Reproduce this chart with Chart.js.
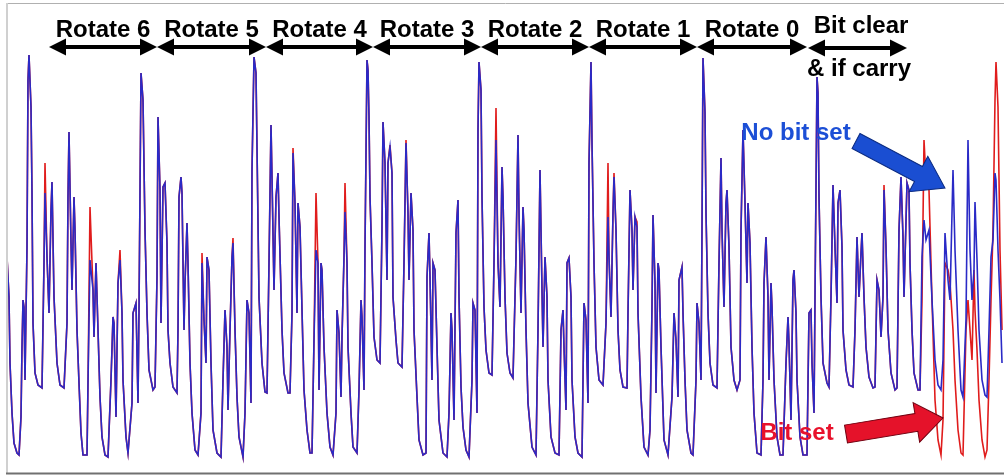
<!DOCTYPE html>
<html>
<head>
<meta charset="utf-8">
<script src="https://cdn.jsdelivr.net/npm/chart.js@4/dist/chart.umd.min.js"></script>
<style>
  body { margin: 0; background: #fff; }
  #wrap { width: 1004px; height: 475px; position: relative; }
</style>
</head>
<body>
<div id="wrap"><canvas id="trace"></canvas></div>
<script>
// sample positions along the trace (time axis)
var t = [
  7,9,10,12,14,17,19,21,22,23,24,25,27,28,29,31,32,33,35,38,42,44,45,47,49,51,52,54,57,60,64,67,68,69,71,72,74,75,77,79,81,83,87,88,90,93,94,96,98,100,102,105,108,111,113,114,116,118,120,122,123,126,128,132,133,136,138,139,141,143,145,147,149,153,155,157,158,160,161,163,165,
  167,168,170,173,177,178,179,181,182,184,185,187,188,190,192,195,198,201,202,204,206,207,209,211,213,217,221,223,225,227,228,230,232,233,235,237,239,243,245,247,249,251,252,254,256,257,259,262,265,267,269,271,272,274,276,278,279,282,284,288,290,292,293,295,297,298,300,302,304,307,310,312,314,316,318,319,321,322,324,327,330,333,
  336,337,339,341,342,344,345,347,348,351,353,357,359,361,362,364,365,367,368,369,370,372,374,377,380,382,383,385,387,388,390,392,393,396,398,402,404,406,408,409,411,413,414,417,419,423,426,427,429,430,432,433,435,437,439,443,447,449,451,452,454,456,458,459,461,463,466,469,472,473,475,477,478,479,481,482,484,486,489,492,494,496,498,500,
  502,503,505,507,510,513,516,518,519,521,523,524,526,528,532,536,538,540,542,543,545,547,548,551,555,559,561,563,564,566,567,569,571,572,575,578,582,584,586,588,589,591,592,594,596,599,603,606,608,609,611,613,614,616,618,620,623,627,628,630,632,633,635,637,638,641,644,648,650,652,653,655,656,658,659,661,664,
  668,672,674,676,678,679,682,683,685,687,691,693,696,697,699,701,702,703,705,706,708,710,713,717,719,721,722,724,726,727,729,731,734,737,740,741,743,745,747,748,750,752,754,757,761,763,764,766,768,769,771,772,774,777,780,783,786,788,789,791,793,794,796,797,800,803,807,809,811,812,814,815,817,818,819,821,823,827,829,
  831,833,835,837,838,840,842,843,846,849,853,855,857,859,861,862,864,866,869,873,875,877,879,881,883,884,886,888,891,895,897,899,901,903,904,907,909,910,912,914,918,920,
  922,924,926,929,932,935,938,941,943,945,948,950,953,955,958,961,963,966,968,970,972,974,975,977,979,982,985,987,989,991,993,995,996,998,1000,1002
];

// "No bit set" trace
var blue = [
  213,173,107,57,27,17,15,53,123,170,163,90,223,390,415,363,277,147,97,85,82,207,277,213,157,260,288,173,107,85,82,147,273,338,227,180,273,240,140,87,37,15,15,87,210,180,133,207,140,73,33,15,13,90,153,147,53,187,210,157,90,33,17,67,157,167,67,160,397,370,240,157,100,80,83,193,353,280,147,283,287,
  227,140,107,83,77,140,273,293,277,140,187,247,207,107,57,20,15,57,207,150,107,213,200,107,40,17,13,90,160,123,60,140,213,227,140,73,33,13,57,170,157,67,300,413,397,323,173,107,78,77,207,345,293,180,273,297,253,140,97,77,77,157,317,267,157,267,243,160,80,40,17,17,130,220,207,80,207,200,123,57,23,15,
  57,160,137,73,133,213,258,207,123,57,23,17,80,170,153,80,223,410,400,353,273,207,133,110,107,243,348,307,190,307,323,297,173,130,107,103,207,327,257,190,277,240,140,73,30,15,17,193,237,193,90,207,200,123,50,17,13,57,157,140,50,237,270,173,83,43,20,13,90,167,160,57,340,408,380,273,163,120,97,95,207,330,207,163,
  303,273,173,117,97,92,213,335,257,157,263,240,140,67,23,15,140,300,180,123,213,173,90,33,17,15,140,160,123,60,207,212,173,90,33,17,13,167,150,67,307,408,327,207,123,90,85,147,253,213,153,257,293,240,140,100,83,82,157,280,240,180,253,243,157,73,23,15,40,163,255,187,77,207,200,123,30,
  15,73,157,130,73,190,203,157,90,40,17,15,90,167,147,90,240,412,357,257,157,107,85,82,207,312,240,163,267,280,223,123,90,80,90,240,340,267,187,267,227,123,57,17,15,90,187,233,173,90,187,163,90,33,15,15,107,153,127,50,190,200,157,90,33,15,15,157,160,107,57,173,393,377,273,173,107,87,83,
  173,285,223,167,267,280,223,140,100,85,83,140,233,173,217,237,173,123,93,82,83,190,180,133,173,280,223,140,97,80,82,240,293,233,173,287,280,207,140,97,80,80,
  213,250,230,240,170,110,85,80,110,237,190,170,300,220,140,80,73,150,330,220,170,200,268,210,140,90,75,73,140,213,230,297,290,220,170,107
];

// "Bit set" trace
var red = [
  213,173,107,57,27,17,15,53,123,170,163,90,223,390,415,363,277,147,97,85,82,207,307,213,157,260,288,173,107,85,82,147,273,338,227,180,273,240,140,87,37,15,15,87,263,180,133,207,140,73,33,15,13,90,153,147,53,187,220,157,90,33,17,67,157,167,67,160,397,370,240,157,100,80,83,193,353,280,147,283,287,
  227,140,107,83,77,140,273,293,277,140,187,247,207,107,57,20,15,57,217,150,107,213,200,107,40,17,13,90,160,123,60,140,213,232,140,73,33,13,57,170,157,67,300,413,397,323,173,107,78,77,207,345,293,180,273,297,253,140,97,77,77,157,322,267,157,267,243,160,80,40,17,17,130,277,207,80,207,200,123,57,23,15,
  57,160,137,73,133,213,287,207,123,57,23,17,80,170,153,80,223,410,400,353,273,207,133,110,107,243,348,307,190,307,325,297,173,130,107,103,207,330,257,190,277,240,140,73,30,15,17,193,237,193,90,207,200,123,50,17,13,57,157,140,50,237,270,173,83,43,20,13,90,167,160,57,340,408,380,273,163,120,97,95,207,362,207,163,
  303,273,173,117,97,92,213,335,257,157,263,240,140,67,23,15,140,300,180,123,213,173,90,33,17,15,140,160,123,60,207,212,173,90,33,17,13,167,150,67,307,408,327,207,123,90,85,147,307,213,153,257,297,240,140,100,83,82,157,280,240,180,253,248,157,73,23,15,40,163,255,187,77,207,200,123,30,
  15,73,157,130,73,190,203,157,90,40,17,15,90,167,147,90,240,412,357,257,157,107,85,82,207,312,240,163,267,280,223,123,90,80,90,240,340,267,187,267,227,123,57,17,15,90,187,233,173,90,187,163,90,33,15,15,107,153,127,50,190,200,157,90,33,15,15,157,160,107,57,173,393,377,273,173,107,87,83,
  173,285,223,167,267,280,223,140,100,85,83,140,233,173,217,237,173,123,93,82,83,190,180,133,173,285,223,140,97,80,82,240,293,233,173,287,280,207,140,97,80,80,
  170,330,290,280,170,70,30,15,50,207,200,187,140,90,40,17,15,140,170,140,110,200,160,120,70,30,13,20,90,170,240,370,408,363,220,140
];

var rotateLabels = ['Rotate 6', 'Rotate 5', 'Rotate 4', 'Rotate 3', 'Rotate 2', 'Rotate 1', 'Rotate 0'];

function pts(vals) {
  return t.map(function(x, i) { return { x: x, y: vals[i] }; });
}

// arrows, labels and frame drawn over the plot
var notes = {
  id: 'notes',
  afterDraw: function(chart) {
    var c = chart.ctx;
    c.save();

    // frame
    c.strokeStyle = '#b0b0b0'; c.lineWidth = 1;
    c.beginPath(); c.moveTo(7, 3.5); c.lineTo(1004, 3.5); c.stroke();
    c.strokeStyle = '#d0d0d0'; c.lineWidth = 2;
    c.beginPath(); c.moveTo(7, 3); c.lineTo(7, 474); c.stroke();
    c.strokeStyle = '#707070'; c.lineWidth = 2;
    c.beginPath(); c.moveTo(6, 473.5); c.lineTo(1004, 473.5); c.stroke();

    function dblArrow(x1, x2, y) {
      c.fillStyle = '#000'; c.strokeStyle = '#000'; c.lineWidth = 4;
      c.beginPath(); c.moveTo(x1 + 10, y); c.lineTo(x2 - 10, y); c.stroke();
      c.beginPath(); c.moveTo(x1, y); c.lineTo(x1 + 17, y - 8.5); c.lineTo(x1 + 17, y + 8.5); c.closePath(); c.fill();
      c.beginPath(); c.moveTo(x2, y); c.lineTo(x2 - 17, y - 8.5); c.lineTo(x2 - 17, y + 8.5); c.closePath(); c.fill();
    }
    function oneArrow(x1, x2, y) {
      c.fillStyle = '#000'; c.strokeStyle = '#000'; c.lineWidth = 4;
      c.beginPath(); c.moveTo(x1 + 10, y); c.lineTo(x2 - 10, y); c.stroke();
      c.beginPath(); c.moveTo(x1, y); c.lineTo(x1 + 17, y - 8.5); c.lineTo(x1 + 17, y + 8.5); c.closePath(); c.fill();
      c.beginPath(); c.moveTo(x2, y); c.lineTo(x2 - 17, y - 8.5); c.lineTo(x2 - 17, y + 8.5); c.closePath(); c.fill();
    }
    function blockArrow(x1, y1, x2, y2, sw, hw, hl, fill, edge) {
      var L = Math.hypot(x2 - x1, y2 - y1);
      c.save();
      c.translate(x1, y1);
      c.rotate(Math.atan2(y2 - y1, x2 - x1));
      c.beginPath();
      c.moveTo(0, -sw / 2); c.lineTo(L - hl, -sw / 2); c.lineTo(L - hl, -hw / 2);
      c.lineTo(L, 0); c.lineTo(L - hl, hw / 2); c.lineTo(L - hl, sw / 2); c.lineTo(0, sw / 2);
      c.closePath();
      c.fillStyle = fill; c.fill();
      c.strokeStyle = edge; c.lineWidth = 1; c.stroke();
      c.restore();
    }

    var ends = [49, 157, 266, 373, 481, 589, 697, 807];
    c.font = 'bold 24px "Liberation Sans", Arial, sans-serif';
    c.textAlign = 'center';
    c.textBaseline = 'alphabetic';
    c.fillStyle = '#000';
    for (var i = 0; i < rotateLabels.length; i++) {
      dblArrow(ends[i], ends[i + 1], 47);
      c.fillStyle = '#000';
      c.fillText(rotateLabels[i], (ends[i] + ends[i + 1]) / 2, 37);
    }
    oneArrow(808, 907, 48);
    c.fillStyle = '#000';
    c.fillText('Bit clear', 861, 33);
    c.fillText('& if carry', 859, 76);

    c.fillStyle = '#1c4fd6';
    c.fillText('No bit set', 796, 140);
    blockArrow(856, 141, 945, 188, 17, 40, 30, '#1a4ed2', '#0a2a80');

    c.fillStyle = '#e8122c';
    c.fillText('Bit set', 797, 440);
    blockArrow(846, 434, 943, 418, 18, 40, 27, '#e5122a', '#700010');

    c.restore();
  }
};

new Chart(document.getElementById('trace'), {
  type: 'line',
  data: {
    datasets: [
      { label: 'No bit set', data: pts(blue), borderColor: '#2a2ac6', borderWidth: 1.6, pointRadius: 0, tension: 0, order: 1 },
      { label: 'Bit set', data: pts(red), borderColor: '#e01c1c', borderWidth: 1.6, pointRadius: 0, tension: 0, order: 2 }
    ]
  },
  options: {
    responsive: true,
    maintainAspectRatio: false,
    animation: false,
    layout: { padding: { left: 8, right: 1, top: 5, bottom: 2 } },
    plugins: { legend: { display: false }, tooltip: { enabled: false } },
    scales: {
      x: { type: 'linear', display: false, min: 8, max: 1003 },
      y: { display: false, min: -3, max: 465 }
    }
  },
  plugins: [notes]
});
</script>
</body>
</html>
